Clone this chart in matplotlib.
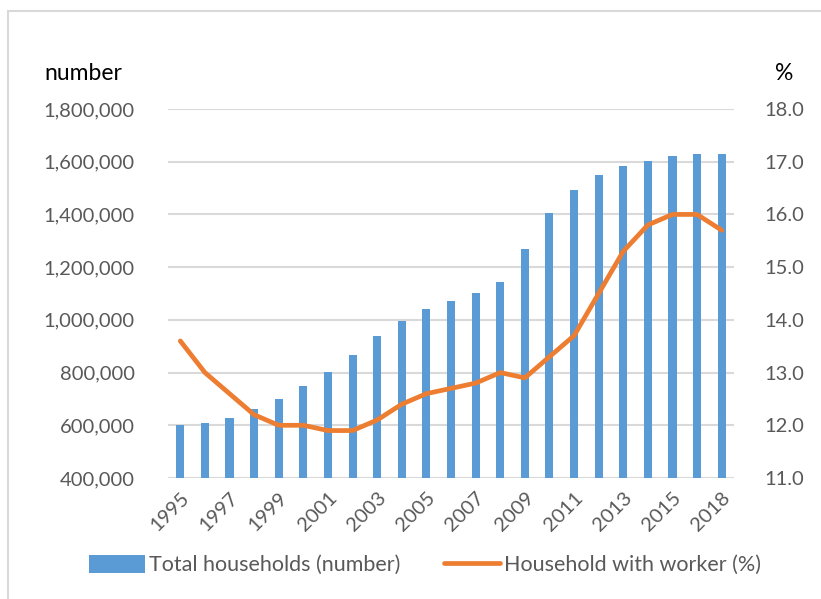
import matplotlib
matplotlib.use("Agg")
import matplotlib.pyplot as plt
from matplotlib.patches import Rectangle
from matplotlib.ticker import FuncFormatter, MultipleLocator
import numpy as np

years = [str(y) for y in range(1995, 2017)] + ["2018"]
households = [600000, 610000, 629000, 661000, 701000, 749000, 802000, 868000,
              939000, 997000, 1040000, 1073000, 1102000, 1145000, 1269000,
              1405000, 1493000, 1551000, 1584000, 1604000, 1620000, 1628000,
              1631000]
worker_pct = [13.6, 13.0, 12.6, 12.2, 12.0, 12.0, 11.9, 11.9, 12.1, 12.4, 12.6,
              12.7, 12.8, 13.0, 12.9, 13.3, 13.7, 14.5, 15.3, 15.8, 16.0, 16.0,
              15.7]

BLUE = "#5B9BD5"
ORANGE = "#ED7D31"
GREY = "#595959"
GRID = "#D9D9D9"

plt.rcParams["font.family"] = ["Lato", "DejaVu Sans"]

fig = plt.figure(figsize=(8.21, 5.99), dpi=100)
fig.patches.append(Rectangle((8 / 821, -0.05), 1.2, 1 - 11 / 599 + 0.05,
                             transform=fig.transFigure, fill=False,
                             edgecolor=GRID, linewidth=1.5))

ax = fig.add_axes([168 / 821, 121 / 599, 566 / 821, 369 / 599])
x = np.arange(len(years))
bars = ax.bar(x, households, width=0.33, color=BLUE, zorder=2,
              label="Total households (number)")
ax.set_xlim(-0.5, len(years) - 0.5)
ax.set_ylim(400000, 1800000)
ax.yaxis.set_major_locator(MultipleLocator(200000))
ax.yaxis.set_major_formatter(FuncFormatter(lambda v, p: f"{int(v):,}"))
ax.grid(axis="y", color=GRID, linewidth=1.5, zorder=0)
ax.set_axisbelow(True)
for s in ax.spines.values():
    s.set_visible(False)

tick_idx = list(range(0, 21, 2)) + [22]
ax.set_xticks(tick_idx)
ax.set_xticklabels([years[i] for i in tick_idx], rotation=45, ha="right",
                   rotation_mode="anchor")
ax.tick_params(axis="x", length=0, pad=8, labelsize=14.5, labelcolor=GREY)
ax.tick_params(axis="y", length=0, pad=24, labelsize=14.5, labelcolor=GREY)

ax2 = ax.twinx()
line, = ax2.plot(x, worker_pct, color=ORANGE, linewidth=3.4,
                 solid_capstyle="round", solid_joinstyle="round",
                 label="Household with worker (%)")
ax2.set_ylim(11, 18)
ax2.yaxis.set_major_locator(MultipleLocator(1))
ax2.yaxis.set_major_formatter(FuncFormatter(lambda v, p: f"{v:.1f}"))
ax2.tick_params(axis="y", length=0, pad=22, labelsize=14.5, labelcolor=GREY)
for s in ax2.spines.values():
    s.set_visible(False)

fig.text(44 / 821, 1 - 74 / 599, "number", fontsize=16.5, color="black",
         va="center", ha="left")
fig.text(775 / 821, 1 - 74 / 599, "%", fontsize=16.5, color="black",
         va="center", ha="left")

fig.legend([bars, line], ["Total households (number)", "Household with worker (%)"],
           loc="center", bbox_to_anchor=(425 / 821, 1 - 565 / 599), ncol=2,
           frameon=False, fontsize=15.5, labelcolor=GREY, handlelength=2.6,
           handletextpad=0.2, columnspacing=2.0, handleheight=0.9)

fig.savefig("out.png", dpi=100)
